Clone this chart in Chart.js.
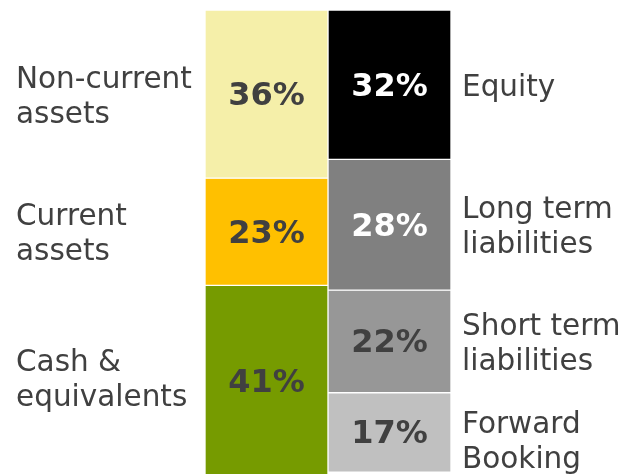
<!DOCTYPE html>
<html>
<head>
<meta charset="utf-8">
<script src="https://cdn.jsdelivr.net/npm/chart.js@4.4.0/dist/chart.umd.min.js"></script>
<style>
  html, body { margin: 0; padding: 0; background: #fff; }
  #wrap { width: 630px; height: 474px; }
</style>
</head>
<body>
<div id="wrap"><canvas id="chart"></canvas></div>
<script>
'use strict';

// assets side, listed top to bottom
const assetNames = [['Non-current', 'assets'], ['Current', 'assets'], ['Cash &', 'equivalents']];
const assetValues = [36, 23, 41];
const assetColors = ['#F5EFA9', '#FFC000', '#769B00'];

// liabilities side, listed top to bottom
const liabNames = [['Equity'], ['Long term', 'liabilities'], ['Short term', 'liabilities'], ['Forward', 'Booking']];
const liabValues = [32, 28, 22, 17];
const liabColors = ['#000000', '#808080', '#979797', '#C0C0C0'];
const liabValueColors = ['#ffffff', '#ffffff', '#404040', '#404040'];

const columns = ['Assets', 'Liabilities'];

let datasets = [];
for (let i = 0; i < assetValues.length; i++) {
  datasets.push({
    label: assetNames[i].join(' '),
    data: [assetValues[i], null],
    backgroundColor: assetColors[i],
    names: assetNames[i],
    side: 'left',
    valueColor: '#404040'
  });
}
for (let i = 0; i < liabValues.length; i++) {
  datasets.push({
    label: liabNames[i].join(' '),
    data: [null, liabValues[i]],
    backgroundColor: liabColors[i],
    names: liabNames[i],
    side: 'right',
    valueColor: liabValueColors[i]
  });
}

// writes the percentage in each segment and its name beside the column
const segmentLabels = {
  id: 'segmentLabels',
  afterDatasetsDraw(chart, args, opts) {
    const ctx = chart.ctx;
    const area = chart.chartArea;
    const nudge = opts.nudge || {};
    ctx.save();
    chart.data.datasets.forEach((ds, di) => {
      const meta = chart.getDatasetMeta(di);
      const idx = ds.side === 'left' ? 0 : 1;
      const bar = meta.data[idx];
      const value = ds.data[idx];
      const midY = (Math.min(bar.y, chart.height) + Math.min(bar.base, chart.height)) / 2;

      ctx.font = 'bold 32px "DejaVu Sans"';
      ctx.fillStyle = ds.valueColor;
      ctx.textAlign = 'center';
      ctx.textBaseline = 'middle';
      ctx.fillText(value + '%', bar.x, (bar.y + bar.base) / 2 + 2.5);

      ctx.font = '29.5px "DejaVu Sans"';
      ctx.fillStyle = '#404040';
      ctx.textAlign = 'left';
      ctx.textBaseline = 'alphabetic';
      const lineH = 35;
      const x = ds.side === 'left' ? 16 : area.right + 11;
      const base = midY + 11 + (nudge[ds.label] || 0) - (ds.names.length - 1) * lineH / 2;
      ds.names.forEach((line, li) => {
        ctx.fillText(line, x, base + li * lineH);
      });
    });
    ctx.restore();
  }
};

new Chart(document.getElementById('chart'), {
  type: 'bar',
  data: { labels: columns, datasets: datasets },
  options: {
    responsive: true,
    maintainAspectRatio: false,
    animation: false,
    layout: { padding: { left: 205, right: 179, top: 10, bottom: 0 } },
    datasets: {
      bar: {
        barPercentage: 1,
        categoryPercentage: 1,
        borderColor: '#ffffff',
        borderWidth: 1,
        borderSkipped: false
      }
    },
    scales: {
      x: { stacked: true, display: false },
      y: { stacked: true, display: false, reverse: true, min: 0, max: 99.4 }
    },
    plugins: {
      legend: { display: false },
      tooltip: { enabled: false },
      segmentLabels: { nudge: { 'Cash & equivalents': -2, 'Forward Booking': 7 } }
    }
  },
  plugins: [segmentLabels]
});
</script>
</body>
</html>
